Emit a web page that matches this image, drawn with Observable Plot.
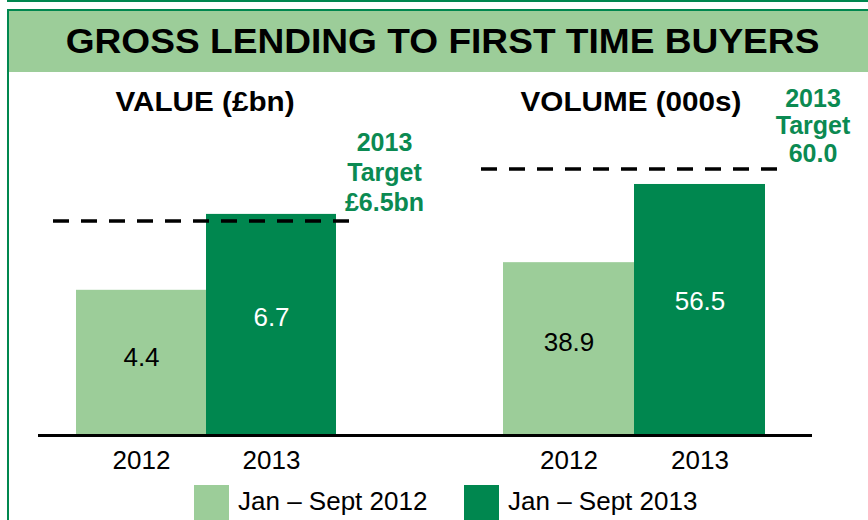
<!DOCTYPE html>
<html>
<head>
<meta charset="utf-8">
<script src="https://cdn.jsdelivr.net/npm/d3@7"></script>
<script src="https://cdn.jsdelivr.net/npm/@observablehq/plot@0.6"></script>
<style>
  html, body { margin: 0; padding: 0; background: #fff; }
  #wrap { position: relative; width: 868px; height: 520px; overflow: hidden; background: #fff;
          font-family: "Liberation Sans", Arial, sans-serif; }
  .abs { position: absolute; }
  .title { white-space: nowrap; font-weight: bold; color: #000; line-height: 1; }
</style>
</head>
<body>
<div id="wrap"></div>
<script>
// ---- data ----
const title = "GROSS LENDING TO FIRST TIME BUYERS";
const years = ["2012", "2013"];
const valueData = [4.4, 6.7];
const volumeData = [38.9, 56.5];
const valueTarget = [6.5];
const volumeTarget = [60.0];
const panelTitles = ["VALUE (£bn)", "VOLUME (000s)"];
const legendLabels = ["Jan – Sept 2012", "Jan – Sept 2013"];

// ---- style ----
const LIGHT = "#9ccd99";
const DARK = "#00874f";
const GREEN_TEXT = "#0b8a52";
const FONT = "'Liberation Sans', Arial, sans-serif";

const wrap = document.getElementById("wrap");
function div(css, html) {
  const d = document.createElement("div");
  d.className = "abs";
  d.style.cssText = css;
  if (html != null) d.textContent = html;
  wrap.appendChild(d);
  return d;
}

// frame
div(`left:7px;top:0;width:861px;height:2px;background:${DARK};`);
div(`left:7px;top:9px;width:861px;height:2px;background:${DARK};`);
div(`left:7px;top:9px;width:2px;height:511px;background:${DARK};`);
div(`left:9px;top:11px;width:859px;height:61px;background:${LIGHT};`);
const t = div(`left:13px;top:23px;width:859px;text-align:center;font-size:35px;`, null);
t.className = "abs title";
const ts = document.createElement("span");
ts.textContent = title;
ts.style.cssText = "display:inline-block;transform:scaleX(1.06);transform-origin:center;";
t.appendChild(ts);

// panel titles
const pt1 = div(`left:205px;top:88px;font-size:28px;transform:translateX(-50%) scaleX(1.06);`, panelTitles[0]);
pt1.className = "abs title";
const pt2 = div(`left:631px;top:88px;font-size:28px;transform:translateX(-50%) scaleX(1.06);`, panelTitles[1]);
pt2.className = "abs title";

function panel({values, target, yMax, width, marginLeft, marginRight, marginTop, baseInsetLeft, baseInsetRight, ruleInsetLeft, ruleInsetRight, fmt, annDy, annLH}) {
  const data = years.map((y, i) => ({year: y, value: values[i]}));
  return Plot.plot({
    width, height: 420,
    marginTop, marginBottom: 60, marginLeft, marginRight,
    style: {background: "transparent", overflow: "visible", fontFamily: FONT, fontSize: "26px", color: "#000"},
    x: {domain: years, padding: 0, tickSize: 0, tickPadding: 15, label: null},
    y: {domain: [0, yMax], axis: null},
    color: {domain: years, range: [LIGHT, DARK]},
    marks: [
      Plot.barY(data, {x: "year", y: "value", fill: "year"}),
      Plot.text(data, {x: "year", y: d => d.value * 0.535, text: d => d.value.toFixed(1),
        fill: d => d.year === years[0] ? "#000" : "#fff", fontSize: 26}),
      Plot.ruleY(target, {stroke: "#000", strokeWidth: 3.5, strokeDasharray: "16,12",
        insetLeft: ruleInsetLeft, insetRight: ruleInsetRight}),
      Plot.text(target, {x: () => years[1], y: d => d, text: d => `2013\nTarget\n${fmt(d)}`,
        dx: 113, dy: annDy, lineAnchor: "bottom", lineHeight: annLH,
        fill: GREEN_TEXT, fontWeight: "bold", fontSize: 25}),
      Plot.ruleY([0], {stroke: "#000", strokeWidth: 3, insetLeft: baseInsetLeft, insetRight: baseInsetRight})
    ]
  });
}

const p1 = panel({values: valueData, target: valueTarget, yMax: 10, width: 430,
  marginLeft: 75, marginRight: 94, marginTop: 30,
  baseInsetLeft: -37, baseInsetRight: -94, ruleInsetLeft: -22, ruleInsetRight: -13,
  fmt: d => `£${d.toFixed(1)}bn`, annDy: -10, annLH: 1.2});
p1.style.position = "absolute"; p1.style.left = "0px"; p1.style.top = "75px";
wrap.appendChild(p1);

const p2 = panel({values: volumeData, target: volumeTarget, yMax: 70, width: 438,
  marginLeft: 73, marginRight: 103, marginTop: 49,
  baseInsetLeft: -73, baseInsetRight: -47, ruleInsetLeft: -22, ruleInsetRight: -12,
  fmt: d => d.toFixed(1), annDy: -7, annLH: 1.1});
p2.style.position = "absolute"; p2.style.left = "430px"; p2.style.top = "75px";
wrap.appendChild(p2);

// legend
const lx = [194, 464];
legendLabels.forEach((lab, i) => {
  div(`left:${lx[i]}px;top:485px;width:35px;height:35px;background:${i ? DARK : LIGHT};`);
  div(`left:${lx[i] + 44}px;top:488px;font-size:26px;line-height:1;white-space:nowrap;color:#000;`, lab);
});
</script>
</body>
</html>
